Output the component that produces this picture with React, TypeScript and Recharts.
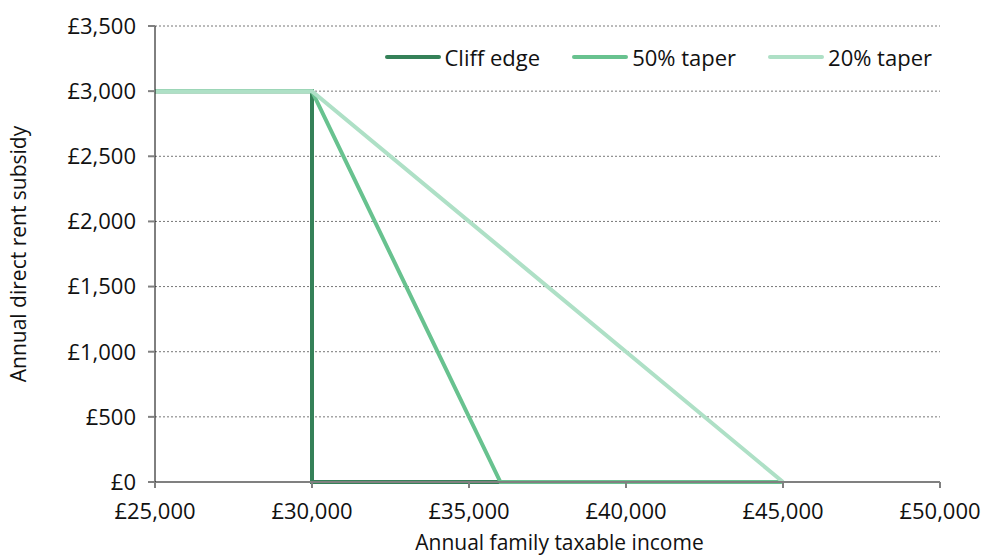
import { LineChart, Line, XAxis, YAxis, CartesianGrid } from 'recharts';

const incomeTicks = [25000, 30000, 35000, 40000, 45000, 50000];
const subsidyTicks = [0, 500, 1000, 1500, 2000, 2500, 3000, 3500];

const cliffIncome = [25000, 30000, 30000, 45000];
const cliffSubsidy = [3000, 3000, 0, 0];

const taper50Income = [25000, 30000, 36000, 45000];
const taper50Subsidy = [3000, 3000, 0, 0];

const taper20Income = [25000, 30000, 45000];
const taper20Subsidy = [3000, 3000, 0];

const seriesNames = ['Cliff edge', '50% taper', '20% taper'];
const seriesColors = ['#358158', '#68c28f', '#aee0c6'];

const toPoints = (xs: number[], ys: number[]) => xs.map((x, i) => ({ income: x, subsidy: ys[i] }));

const FONT = '"Open Sans", "Noto Sans", sans-serif';

const fmt = (v: number) => '£' + v.toLocaleString('en-GB');

// legend drawn as an overlay so it doesn't push the plot area down
function LegendBox() {
  return (
    <div
      style={{
        position: 'absolute', top: 42, right: 54, display: 'flex', alignItems: 'center',
        fontFamily: FONT, fontSize: 22, color: '#111', whiteSpace: 'nowrap', background: '#fff',
      }}
    >
      {seriesNames.map((name, i) => (
        <div key={name} style={{ display: 'flex', alignItems: 'center', marginLeft: i === 0 ? 0 : 32 }}>
          <div style={{ width: 56, height: 4, borderRadius: 2, background: seriesColors[i], marginRight: 4 }} />
          <span>{name}</span>
        </div>
      ))}
    </div>
  );
}

export default function App() {
  const series = [
    toPoints(cliffIncome, cliffSubsidy),
    toPoints(taper50Income, taper50Subsidy),
    toPoints(taper20Income, taper20Subsidy),
  ];

  return (
    <div style={{ position: 'absolute', left: 0, top: 0, width: 986, height: 557, background: '#fff' }}>
      <LineChart width={986} height={557} margin={{ top: 26, right: 46, bottom: 0, left: 0 }}>
        <CartesianGrid vertical={false} stroke="#777" strokeDasharray="2 2" />
        <XAxis
          type="number"
          dataKey="income"
          domain={[25000, 50000]}
          ticks={incomeTicks}
          tickFormatter={fmt}
          height={75}
          stroke="#808080"
          strokeWidth={2}
          tickSize={6}
          tickMargin={15}
          tick={{ fontSize: 22, fill: '#111', fontFamily: FONT }}
          label={{ value: 'Annual family taxable income', position: 'insideBottom', offset: 7, dx: 12, style: { fontSize: 21, fill: '#111', fontFamily: FONT } }}
        />
        <YAxis
          type="number"
          domain={[0, 3500]}
          ticks={subsidyTicks}
          tickFormatter={fmt}
          width={155}
          stroke="#000"
          tickLine={{ stroke: '#808080', strokeWidth: 2 }}
          tickSize={7}
          tickMargin={12}
          tick={{ fontSize: 22, fill: '#111', fontFamily: FONT }}
          label={{ value: 'Annual direct rent subsidy', angle: -90, position: 'insideLeft', offset: 19, style: { textAnchor: 'middle', fontSize: 21, fill: '#111', fontFamily: FONT } }}
        />
        {series.map((pts, i) => (
          <Line
            key={seriesNames[i]}
            data={pts}
            dataKey="subsidy"
            name={seriesNames[i]}
            stroke={seriesColors[i]}
            strokeWidth={4}
            dot={false}
            type="linear"
            isAnimationActive={false}
          />
        ))}
      </LineChart>
      <LegendBox />
    </div>
  );
}
